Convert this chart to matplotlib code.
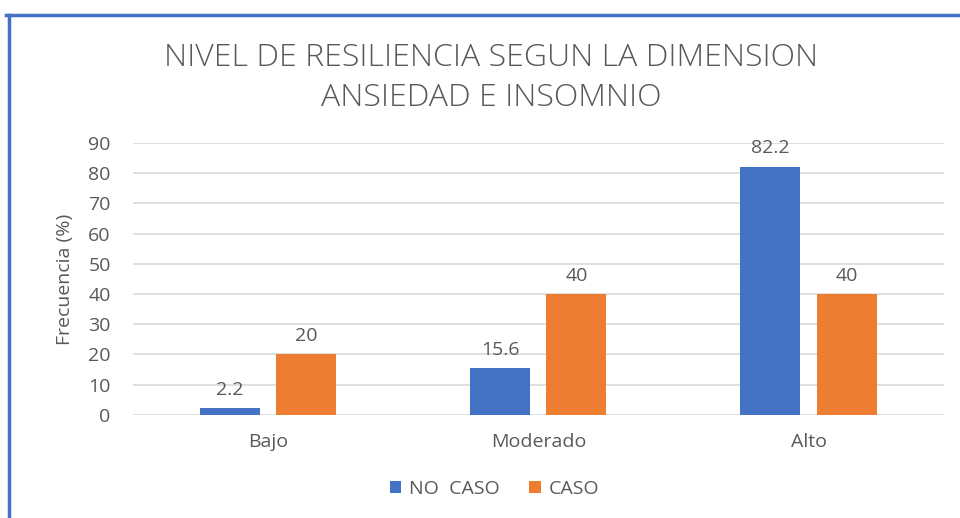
import numpy as np
import matplotlib.pyplot as plt
from matplotlib.lines import Line2D

categories = ["Bajo", "Moderado", "Alto"]
no_caso = [2.2, 15.6, 82.2]
caso = [20, 40, 40]
series_names = ["NO  CASO", "CASO"]

blue = "#4472C4"
orange = "#ED7D31"
text_col = "#595959"

plt.rcParams["font.family"] = ["Open Sans", "DejaVu Sans"]

fig = plt.figure(figsize=(9.6, 5.18), dpi=100)
ax = fig.add_axes([0.1385, 0.199, 0.8445, 0.525])

x = np.arange(len(categories))
w = 0.222
off = 0.141
b1 = ax.bar(x - off, no_caso, w, color=blue, label=series_names[0], zorder=3)
b2 = ax.bar(x + off, caso, w, color=orange, label=series_names[1], zorder=3)

for bars, vals in ((b1, no_caso), (b2, caso)):
    for r, v in zip(bars, vals):
        ax.text(r.get_x() + r.get_width() / 2, v + 3, f"{v:g}",
                ha="center", va="bottom", fontsize=14, color=text_col)

ax.set_xlim(-0.5, 2.5)
ax.set_ylim(0, 90)
ax.set_yticks(range(0, 91, 10))
ax.set_xticks(x)
ax.set_xticklabels(categories)
ax.tick_params(axis="both", length=0, labelsize=14, colors=text_col)
ax.tick_params(axis="x", pad=13)
ax.tick_params(axis="y", pad=16)
ax.grid(axis="y", color="#D9D9D9", linewidth=1.2, zorder=0)
for s in ax.spines.values():
    s.set_visible(False)
ax.set_ylabel("Frecuencia (%)", fontsize=14, color=text_col, labelpad=10)

fig.text(0.512, 0.85, "NIVEL DE RESILIENCIA SEGUN LA DIMENSION\nANSIEDAD E INSOMNIO",
         ha="center", va="center", fontsize=23, color=text_col,
         linespacing=1.32, fontweight="light")

fig.legend(loc="center", bbox_to_anchor=(0.515, 0.056), ncol=2, frameon=False,
           fontsize=14, labelcolor=text_col, handlelength=0.6, handleheight=0.6,
           columnspacing=1.5, handletextpad=0.4)

# chart border (blue frame on top and left)
fig.add_artist(Line2D([0.006, 1.0], [0.971, 0.971], color=blue, linewidth=2.5,
                      transform=fig.transFigure))
fig.add_artist(Line2D([0.0095, 0.0095], [0.0, 0.971], color=blue, linewidth=2.5,
                      transform=fig.transFigure))

fig.savefig("out.png", dpi=100, facecolor="white")
